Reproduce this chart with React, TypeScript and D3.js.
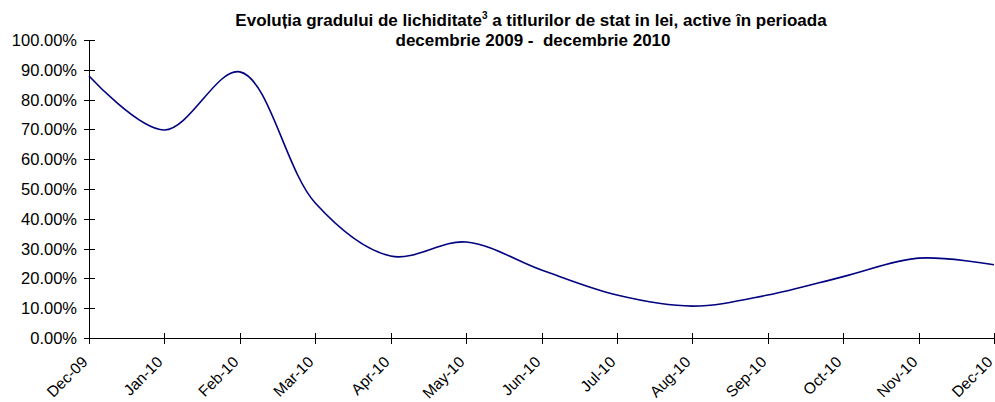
import * as d3 from 'd3'

const months = ['Dec-09', 'Jan-10', 'Feb-10', 'Mar-10', 'Apr-10', 'May-10', 'Jun-10', 'Jul-10', 'Aug-10', 'Sep-10', 'Oct-10', 'Nov-10', 'Dec-10']
const liquidity = [0.879, 0.698, 0.893, 0.453, 0.275, 0.322, 0.228, 0.144, 0.107, 0.144, 0.206, 0.268, 0.246]
const yTicks = [0, 0.1, 0.2, 0.3, 0.4, 0.5, 0.6, 0.7, 0.8, 0.9, 1]

const W = 995
const H = 402
const font = '"Liberation Sans", Arial, sans-serif'

export default function App() {
  const x = d3.scalePoint<string>().domain(months).range([89, 994])
  const y = d3.scaleLinear().domain([0, 1]).range([338, 40])

  const line = d3
    .line<number>()
    .x((d, i) => x(months[i]) as number)
    .y((d) => y(d))
    .curve(d3.curveCatmullRom.alpha(0.5))

  const fmt = d3.format('.2%')

  return (
    <svg width={W} height={H} style={{ position: 'absolute', left: 0, top: 0 }} fontFamily={font}>
      <rect width={W} height={H} fill="#fff" />
      <text x={531} y={26} textAnchor="middle" fontSize={17} fontWeight="bold">
        Evoluția gradului de lichiditate
        <tspan fontSize={10} dy={-7}>3</tspan>
        <tspan dy={7}> a titlurilor de stat in lei, active în perioada</tspan>
      </text>
      <text x={533} y={46} textAnchor="middle" fontSize={17} fontWeight="bold" style={{ whiteSpace: 'pre' }}>
        {'decembrie 2009 -  decembrie 2010'}
      </text>

      {/* y axis */}
      <line x1={89.5} x2={89.5} y1={y(1)} y2={y(0)} stroke="#000" />
      {yTicks.map((t) => (
        <g key={t}>
          <line x1={84} x2={95} y1={Math.round(y(t)) + 0.5} y2={Math.round(y(t)) + 0.5} stroke="#000" />
          <text x={77} y={y(t)} dy="0.36em" textAnchor="end" fontSize={16.5}>
            {fmt(t)}
          </text>
        </g>
      ))}

      {/* x axis */}
      <line x1={89} x2={995} y1={y(0) + 0.5} y2={y(0) + 0.5} stroke="#000" />
      {months.map((m) => {
        const px = Math.round(x(m) as number) + 0.5
        return (
          <g key={m}>
            <line x1={px} x2={px} y1={y(0) - 5} y2={y(0) + 6} stroke="#000" />
            <text
              transform={`translate(${px - 1},${y(0) + 25}) rotate(-45)`}
              textAnchor="end"
              fontSize={15.5}
            >
              {m}
            </text>
          </g>
        )
      })}

      <path d={line(liquidity) ?? ''} fill="none" stroke="#000080" strokeWidth={1.6} />
    </svg>
  )
}
